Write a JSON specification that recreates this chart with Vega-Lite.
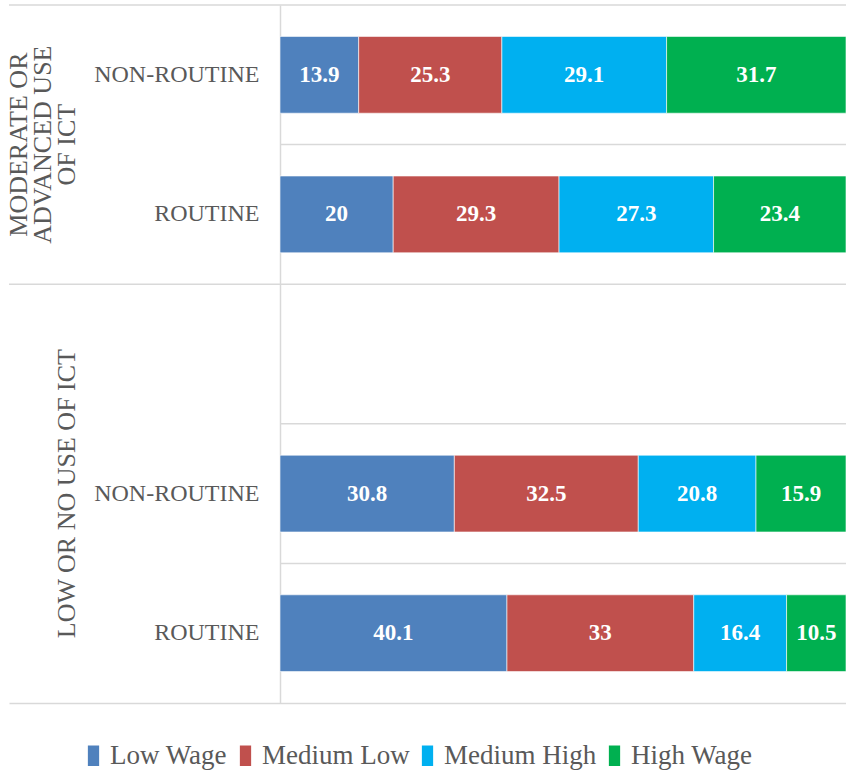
{
  "$schema": "https://vega.github.io/schema/vega-lite/v6.json",
  "width": 837,
  "height": 698,
  "autosize": {"type": "none"},
  "padding": {"left": 9, "top": 5, "right": 0, "bottom": 79},
  "background": "white",
  "config": {"view": {"stroke": null}, "font": "Liberation Serif"},
  "data": {
    "values": [
      {"group": "MODERATE OR ADVANCED USE OF ICT", "job": "NON-ROUTINE", "row": "MODERATE OR ADVANCED USE OF ICT|NON-ROUTINE", "wage": "Low Wage", "value": 13.9},
      {"group": "MODERATE OR ADVANCED USE OF ICT", "job": "NON-ROUTINE", "row": "MODERATE OR ADVANCED USE OF ICT|NON-ROUTINE", "wage": "Medium Low", "value": 25.3},
      {"group": "MODERATE OR ADVANCED USE OF ICT", "job": "NON-ROUTINE", "row": "MODERATE OR ADVANCED USE OF ICT|NON-ROUTINE", "wage": "Medium High", "value": 29.1},
      {"group": "MODERATE OR ADVANCED USE OF ICT", "job": "NON-ROUTINE", "row": "MODERATE OR ADVANCED USE OF ICT|NON-ROUTINE", "wage": "High Wage", "value": 31.7},
      {"group": "MODERATE OR ADVANCED USE OF ICT", "job": "ROUTINE", "row": "MODERATE OR ADVANCED USE OF ICT|ROUTINE", "wage": "Low Wage", "value": 20},
      {"group": "MODERATE OR ADVANCED USE OF ICT", "job": "ROUTINE", "row": "MODERATE OR ADVANCED USE OF ICT|ROUTINE", "wage": "Medium Low", "value": 29.3},
      {"group": "MODERATE OR ADVANCED USE OF ICT", "job": "ROUTINE", "row": "MODERATE OR ADVANCED USE OF ICT|ROUTINE", "wage": "Medium High", "value": 27.3},
      {"group": "MODERATE OR ADVANCED USE OF ICT", "job": "ROUTINE", "row": "MODERATE OR ADVANCED USE OF ICT|ROUTINE", "wage": "High Wage", "value": 23.4},
      {"group": "LOW OR NO USE OF ICT", "job": "NON-ROUTINE", "row": "LOW OR NO USE OF ICT|NON-ROUTINE", "wage": "Low Wage", "value": 30.8},
      {"group": "LOW OR NO USE OF ICT", "job": "NON-ROUTINE", "row": "LOW OR NO USE OF ICT|NON-ROUTINE", "wage": "Medium Low", "value": 32.5},
      {"group": "LOW OR NO USE OF ICT", "job": "NON-ROUTINE", "row": "LOW OR NO USE OF ICT|NON-ROUTINE", "wage": "Medium High", "value": 20.8},
      {"group": "LOW OR NO USE OF ICT", "job": "NON-ROUTINE", "row": "LOW OR NO USE OF ICT|NON-ROUTINE", "wage": "High Wage", "value": 15.9},
      {"group": "LOW OR NO USE OF ICT", "job": "ROUTINE", "row": "LOW OR NO USE OF ICT|ROUTINE", "wage": "Low Wage", "value": 40.1},
      {"group": "LOW OR NO USE OF ICT", "job": "ROUTINE", "row": "LOW OR NO USE OF ICT|ROUTINE", "wage": "Medium Low", "value": 33},
      {"group": "LOW OR NO USE OF ICT", "job": "ROUTINE", "row": "LOW OR NO USE OF ICT|ROUTINE", "wage": "Medium High", "value": 16.4},
      {"group": "LOW OR NO USE OF ICT", "job": "ROUTINE", "row": "LOW OR NO USE OF ICT|ROUTINE", "wage": "High Wage", "value": 10.5}
    ]
  },
  "layer": [
    {
      "data": {"values": [
        {"row": "MODERATE OR ADVANCED USE OF ICT|NON-ROUTINE"},
        {"row": "MODERATE OR ADVANCED USE OF ICT|ROUTINE"},
        {"row": "LOW OR NO USE OF ICT|"},
        {"row": "LOW OR NO USE OF ICT|NON-ROUTINE"},
        {"row": "LOW OR NO USE OF ICT|ROUTINE"}
      ]},
      "mark": {"type": "rule", "color": "#d9d9d9", "strokeWidth": 1.5},
      "encoding": {
        "y": {"field": "row", "type": "nominal", "bandPosition": 0, "axis": {"title": null, "offset": -271, "ticks": false, "domain": true, "domainColor": "#d9d9d9", "domainWidth": 1.5, "labelPadding": 21, "labelFont": "Liberation Serif", "labelFontSize": 24, "labelColor": "#595959", "labelExpr": "split(datum.value, '|')[1]", "grid": false}},
        "x": {"datum": 0, "type": "quantitative", "axis": {"title": null, "labels": false, "ticks": false, "grid": false, "domainColor": "#d9d9d9", "domainWidth": 1.5}},
        "x2": {"datum": 100}
      }
    },
    {
      "data": {"values": [
        {"row": "MODERATE OR ADVANCED USE OF ICT|NON-ROUTINE"},
        {"row": "LOW OR NO USE OF ICT|"}
      ]},
      "mark": {"type": "rule", "color": "#d9d9d9", "strokeWidth": 1.5},
      "encoding": {
        "y": {"field": "row", "type": "nominal", "bandPosition": 0, "axis": {"title": null, "offset": -271, "ticks": false, "domain": true, "domainColor": "#d9d9d9", "domainWidth": 1.5, "labelPadding": 21, "labelFont": "Liberation Serif", "labelFontSize": 24, "labelColor": "#595959", "labelExpr": "split(datum.value, '|')[1]", "grid": false}},
        "x": {"datum": -47.88, "type": "quantitative", "axis": {"title": null, "labels": false, "ticks": false, "grid": false, "domainColor": "#d9d9d9", "domainWidth": 1.5}},
        "x2": {"datum": 0}
      }
    },
    {
      "transform": [{"stack": "value", "groupby": ["row"], "as": ["v0", "v1"]}],
      "mark": {"type": "bar", "height": {"band": 0.55}, "stroke": "white", "strokeWidth": 0.6},
      "encoding": {
        "y": {"field": "row", "type": "nominal", "scale": {"domain": ["MODERATE OR ADVANCED USE OF ICT|NON-ROUTINE", "MODERATE OR ADVANCED USE OF ICT|ROUTINE", "LOW OR NO USE OF ICT|", "LOW OR NO USE OF ICT|NON-ROUTINE", "LOW OR NO USE OF ICT|ROUTINE"], "paddingInner": 0, "paddingOuter": 0}, "axis": {"title": null, "offset": -271, "ticks": false, "domain": true, "domainColor": "#d9d9d9", "domainWidth": 1.5, "labelPadding": 21, "labelFont": "Liberation Serif", "labelFontSize": 24, "labelColor": "#595959", "labelExpr": "split(datum.value, '|')[1]", "grid": false}},
        "x": {"field": "v0", "type": "quantitative", "scale": {"domain": [-47.88, 100], "nice": false, "zero": false}, "axis": {"title": null, "labels": false, "ticks": false, "grid": false, "domainColor": "#d9d9d9", "domainWidth": 1.5}},
        "x2": {"field": "v1"},
        "color": {
          "field": "wage", "type": "nominal",
          "scale": {"domain": ["Low Wage", "Medium Low", "Medium High", "High Wage"], "range": ["#4F81BD", "#C0504D", "#00B0F0", "#00B050"]},
          "legend": {"title": null, "orient": "none", "legendX": 71, "legendY": 737, "direction": "horizontal", "symbolType": "M-0.55,-1H0.55V1H-0.55Z", "symbolSize": 420, "symbolStrokeWidth": 0, "labelFont": "Liberation Serif", "labelFontSize": 27, "labelColor": "#595959", "labelOffset": 3, "columnPadding": 4, "labelLimit": 300}
        }
      }
    },
    {
      "transform": [
        {"stack": "value", "groupby": ["row"], "as": ["v0", "v1"]},
        {"calculate": "(datum.v0 + datum.v1) / 2", "as": "mid"}
      ],
      "mark": {"type": "text", "font": "Liberation Serif", "fontWeight": "bold", "fontSize": 23, "color": "white", "align": "center", "baseline": "middle"},
      "encoding": {
        "y": {"field": "row", "type": "nominal", "axis": {"title": null, "offset": -271, "ticks": false, "domain": true, "domainColor": "#d9d9d9", "domainWidth": 1.5, "labelPadding": 21, "labelFont": "Liberation Serif", "labelFontSize": 24, "labelColor": "#595959", "labelExpr": "split(datum.value, '|')[1]", "grid": false}},
        "x": {"field": "mid", "type": "quantitative", "axis": {"title": null, "labels": false, "ticks": false, "grid": false, "domainColor": "#d9d9d9", "domainWidth": 1.5}},
        "text": {"field": "value", "type": "quantitative"}
      }
    },
    {
      "data": {"values": [{"group": "MODERATE OR ADVANCED USE OF ICT", "lines": ["MODERATE OR", "ADVANCED USE", "OF ICT"]}]},
      "mark": {"type": "text", "angle": 270, "align": "center", "baseline": "bottom", "font": "Liberation Serif", "fontSize": 26, "lineHeight": 24, "color": "#595959"},
      "encoding": {
        "y": {"datum": "MODERATE OR ADVANCED USE OF ICT|ROUTINE", "type": "nominal", "bandPosition": 0, "axis": {"title": null, "offset": -271, "ticks": false, "domain": true, "domainColor": "#d9d9d9", "domainWidth": 1.5, "labelPadding": 21, "labelFont": "Liberation Serif", "labelFontSize": 24, "labelColor": "#595959", "labelExpr": "split(datum.value, '|')[1]", "grid": false}},
        "x": {"datum": -43.8, "type": "quantitative", "axis": {"title": null, "labels": false, "ticks": false, "grid": false, "domainColor": "#d9d9d9", "domainWidth": 1.5}},
        "text": {"field": "lines"}
      }
    },
    {
      "data": {"values": [{"group": "LOW OR NO USE OF ICT"}]},
      "mark": {"type": "text", "angle": 270, "align": "center", "baseline": "bottom", "font": "Liberation Serif", "fontSize": 26, "lineHeight": 24, "color": "#595959"},
      "encoding": {
        "y": {"datum": "LOW OR NO USE OF ICT|NON-ROUTINE", "type": "nominal", "axis": {"title": null, "offset": -271, "ticks": false, "domain": true, "domainColor": "#d9d9d9", "domainWidth": 1.5, "labelPadding": 21, "labelFont": "Liberation Serif", "labelFontSize": 24, "labelColor": "#595959", "labelExpr": "split(datum.value, '|')[1]", "grid": false}},
        "x": {"datum": -35.3, "type": "quantitative", "axis": {"title": null, "labels": false, "ticks": false, "grid": false, "domainColor": "#d9d9d9", "domainWidth": 1.5}},
        "text": {"field": "group"}
      }
    }
  ]
}
